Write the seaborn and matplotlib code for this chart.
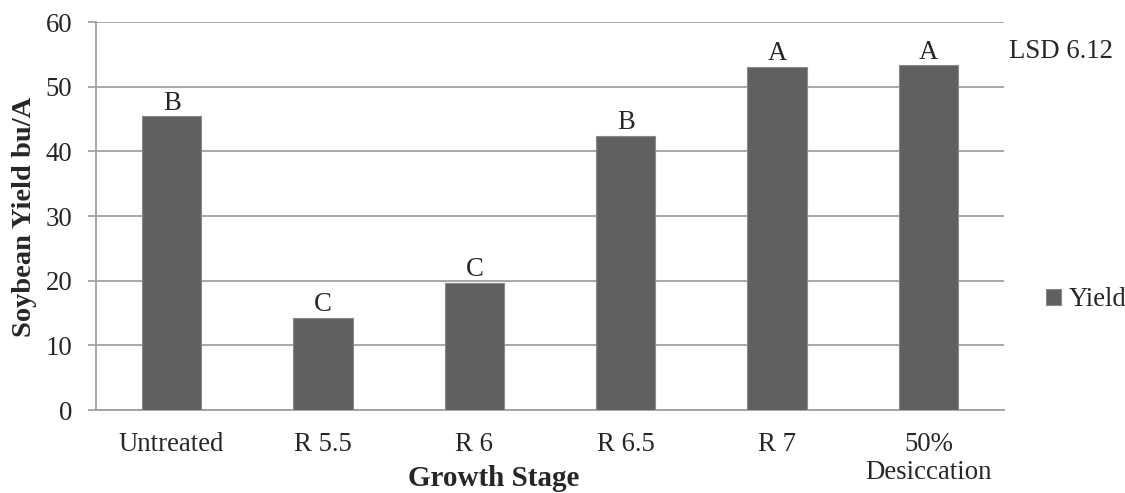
import numpy as np
import pandas as pd
import matplotlib
matplotlib.use("Agg")
import matplotlib.pyplot as plt
import seaborn as sns

# chart data
stages = ["Untreated", "R 5.5", "R 6", "R 6.5", "R 7", "50%\nDesiccation"]
yields = [45.4, 14.3, 19.7, 42.4, 53.1, 53.3]
letters = ["B", "C", "C", "B", "A", "A"]
lsd_text = "LSD 6.12"

BAR = "#606060"
GRID = "#a0a0a0"
FS = 19.3

sns.set_style("white")
plt.rcParams['font.family'] = ['Liberation Serif', 'DejaVu Serif']

df = pd.DataFrame({"stage": stages, "yield": yields})

fig = plt.figure(figsize=(11.25, 4.93), dpi=100)
ax = fig.add_axes([96 / 1125, 1 - 410 / 493, 908 / 1125, 388 / 493])

sns.barplot(data=df, x="stage", y="yield", color=BAR, saturation=1,
            width=0.39, edgecolor="#8a8a8a", linewidth=0.8, label="Yield",
            ax=ax, zorder=3)

ax.set_ylim(0, 60)
ax.set_xlim(-0.5, len(stages) - 0.5)
ax.set_yticks(np.arange(0, 61, 10))
ax.yaxis.grid(True, color=GRID, linewidth=1.3, zorder=0)
ax.set_axisbelow(True)

for s in ["top", "right"]:
    ax.spines[s].set_visible(False)
for s in ["left", "bottom"]:
    ax.spines[s].set_color(GRID)
    ax.spines[s].set_linewidth(1.3)

# ticks between categories
ax.set_xticks(np.arange(-0.5, len(stages), 1), minor=True)
ax.tick_params(axis="x", which="major", length=0, pad=16, labelsize=FS)
ax.tick_params(axis="x", which="minor", length=6, width=1.3, color=GRID, direction="out")
ax.tick_params(axis="y", length=6, width=1.3, color=GRID, pad=11, labelsize=FS, left=True)
for t in ax.get_xticklabels():
    t.set_linespacing(1.15)

# significance letters
for i, (v, l) in enumerate(zip(yields, letters)):
    ax.text(i, v + 1.0, l, ha="center", va="baseline", fontsize=FS)

ax.set_xlabel("")
ax.set_ylabel("")
fig.text(494 / 1125, 1 - 479 / 493, "Growth Stage", ha="center", va="center",
         fontsize=21, fontweight="bold")
fig.text(25 / 1125, 1 - 217 / 493, "Soybean Yield bu/A", ha="center", va="center",
         rotation=90, fontsize=20.5, fontweight="bold")
fig.text(1009 / 1125, 1 - 52 / 493, lsd_text, ha="left", va="center", fontsize=FS)

ax.legend(loc="center left", bbox_to_anchor=(1022 / 1125, 1 - 300 / 493),
          bbox_transform=fig.transFigure, frameon=False, fontsize=FS,
          handlelength=0.55, handleheight=0.55, handletextpad=0.3)

fig.savefig("out.png", dpi=100)
